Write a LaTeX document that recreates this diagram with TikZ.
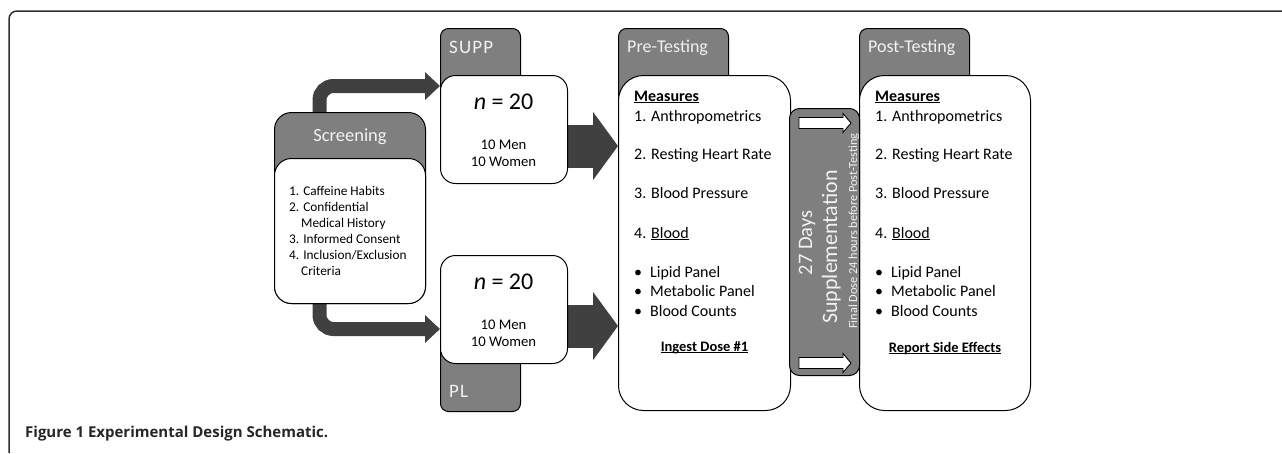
\documentclass[tikz,border=0pt]{standalone}
\usepackage{fontspec}
\setmainfont{Carlito}
\newfontfamily\capfont{Open Sans}
\newcommand\myul[1]{\setbox0\hbox{#1}\rlap{\rule[-2.2pt]{\wd0}{0.9pt}}\box0}
\usetikzlibrary{arrows.meta,backgrounds}
\definecolor{tabgray}{HTML}{7F7F7F}
\definecolor{arrowgray}{HTML}{404040}
\definecolor{labelwhite}{HTML}{F2F2F2}
\definecolor{framegray}{HTML}{303030}
\begin{document}
\begin{tikzpicture}[x=1pt,y=-1pt,
  tabbox/.style={draw=black, fill=tabgray, rounded corners=8pt, line width=1pt, inner sep=0pt, anchor=north west},
  bodybox/.style={draw=black, fill=white, rounded corners=#1, line width=1pt, inner sep=0pt, anchor=north west},
  barbox/.style={draw=black, fill=tabgray, rounded corners=10pt, line width=1pt, inner sep=0pt, anchor=north west},
  tablabel/.style={text=labelwhite, font=\fontsize{18}{21}\selectfont, anchor=base west, inner sep=0pt},
  item/.style={font=\fontsize{16}{19}\selectfont, anchor=base west, inner sep=0pt},
  smallitem/.style={font=\fontsize{13.3}{16}\selectfont, anchor=base west, inner sep=0pt},
  centertext/.style={anchor=base, inner sep=0pt},
  bartext/.style={text=labelwhite, rotate=90, anchor=base, inner sep=0pt},
  bentarrow/.style={draw=arrowgray, line width=14pt, rounded corners=14pt, -{Triangle[length=15pt,width=27pt]}},
  bigarrow/.style={draw=arrowgray, line width=43pt, -{Triangle[length=25pt,width=67pt]}},
  wharrow/.pic={\draw[draw=black, fill=white, line width=0.9pt, line join=miter]
     (0,-5.5) -- (44,-5.5) -- (44,-9.5) -- (52,0) -- (44,9.5) -- (44,5.5) -- (0,5.5) -- cycle;}
]
\useasboundingbox (0,0) rectangle (1282,453);
% frame
\draw[draw=framegray, line width=1.5pt] (9,453) [rounded corners=8pt] -- (9,11) -- (1282,11);

% Screening
\node[tabbox, rounded corners=17pt, minimum width=151pt, minimum height=191pt] (screen) at (274,112) {};
\node[bodybox=17pt, minimum width=151pt, minimum height=145pt] (screenbody) at (274,158) {};
\node[tablabel, anchor=base, font=\fontsize{18.5}{21}\selectfont] (screenlbl) at (350,141) {Screening};
\node[smallitem] (s1) at (289,195) {1. Caffeine Habits};
\node[smallitem] (s2) at (289,211) {2. Confidential};
\node[smallitem] (s2b) at (301,227) {Medical History};
\node[smallitem] (s3) at (289,243) {3. Informed Consent};
\node[smallitem] (s4) at (289,259) {4. Inclusion/Exclusion};
\node[smallitem] (s4b) at (301,275) {Criteria};

% SUPP group
\node[tabbox, minimum width=80pt, minimum height=72pt] (supptab) at (440,28) {};
\node[tablabel, font=\fontsize{19}{21}\selectfont] (supplbl) at (449,53) {\addfontfeature{LetterSpace=6}SUPP};
\node[bodybox=15pt, minimum width=127pt, minimum height=108pt] (supp) at (440,75) {};
\node[centertext, font=\fontsize{24}{28}\selectfont] (suppn) at (503.5,109) {\textit{n} = 20};
\node[centertext, font=\fontsize{14.7}{16}\selectfont] (suppm) at (503.5,149) {10 Men};
\node[centertext, font=\fontsize{14.7}{16}\selectfont] (suppw) at (503.5,166) {10 Women};

% PL group
\node[tabbox, minimum width=80pt, minimum height=71pt] (pltab) at (440,340) {};
\node[tablabel, font=\fontsize{19}{21}\selectfont] (pllbl) at (449,397) {\addfontfeature{LetterSpace=6}PL};
\node[bodybox=15pt, minimum width=127pt, minimum height=108pt] (pl) at (440,255) {};
\node[centertext, font=\fontsize{24}{28}\selectfont] (pln) at (503.5,289) {\textit{n} = 20};
\node[centertext, font=\fontsize{14.7}{16}\selectfont] (plm) at (503.5,329) {10 Men};
\node[centertext, font=\fontsize{14.7}{16}\selectfont] (plw) at (503.5,346) {10 Women};

% Pre-Testing and Post-Testing
\node[tabbox, minimum width=110pt, minimum height=80pt] (pretab) at (618,28) {};
\node[tablabel] (prelbl) at (627,52) {Pre-Testing};
\node[bodybox=25pt, minimum width=172pt, minimum height=335pt] (pre) at (618,75) {};
\node[tabbox, minimum width=110pt, minimum height=80pt] (posttab) at (859,28) {};
\node[tablabel] (postlbl) at (868,52) {Post-Testing};
\node[bodybox=25pt, minimum width=171pt, minimum height=335pt] (post) at (859,75) {};

\foreach \b in {pre,post}{
  \node[item] (\b m) at ([xshift=16pt]\b.west |- 0,101) {\myul{\textbf{Measures}}};
  \node[item] (\b 1) at ([xshift=16pt]\b.west |- 0,121) {1. Anthropometrics};
  \node[item] (\b 2) at ([xshift=16pt]\b.west |- 0,159) {2. Resting Heart Rate};
  \node[item] (\b 3) at ([xshift=16pt]\b.west |- 0,198) {3. Blood Pressure};
  \node[item] (\b 4) at ([xshift=16pt]\b.west |- 0,238) {4. \myul{Blood}};
  \node[item] (\b a) at ([xshift=16pt]\b.west |- 0,277) {\textbullet\hspace{8pt}Lipid Panel};
  \node[item] (\b b) at ([xshift=16pt]\b.west |- 0,296) {\textbullet\hspace{8pt}Metabolic Panel};
  \node[item] (\b c) at ([xshift=16pt]\b.west |- 0,316) {\textbullet\hspace{8pt}Blood Counts};
}
\node[centertext, font=\bfseries\fontsize{14.5}{17}\selectfont] (ingest) at (pre.center |- 0,351) {\myul{Ingest Dose \#1}};
\node[centertext, font=\bfseries\fontsize{14.5}{17}\selectfont] (report) at (post.center |- 0,352) {\myul{Report Side Effects}};

% supplementation bar
\node[barbox, minimum width=70pt, minimum height=267pt] (bar) at (789,108) {};
\pic at ([shift={(10,15)}]bar.north west) {wharrow};
\pic at ([shift={(10,-13)}]bar.south west) {wharrow};
\node[bartext, font=\fontsize{20.5}{24}\selectfont] (days) at (812,243) {27 Days};
\node[bartext, font=\fontsize{22}{24}\selectfont] (suppl) at (837,247) {Supplementation};
\node[bartext, font=\fontsize{12.3}{14}\selectfont] (final) at (857,231) {Final Dose 24 hours before Post-Testing};

% caption
\node[anchor=base west, inner sep=0pt, font=\capfont\bfseries\fontsize{15}{18}\selectfont, text=black!85] (caption) at (25,437) {Figure 1 Experimental Design Schematic.};

% arrows
\begin{scope}[on background layer]
\draw[bentarrow] ([xshift=-30.5pt]screen.north) |- (supp.west |- 0,86);
\draw[bentarrow] ([xshift=-30.5pt]screenbody.south) |- (pl.west |- 0,329);
\draw[bigarrow] (supp.east |- 0,146) -- (pre.west |- 0,146);
\draw[bigarrow] (pl.east |- 0,326) -- (pre.west |- 0,326);
\end{scope}
\end{tikzpicture}
\end{document}
